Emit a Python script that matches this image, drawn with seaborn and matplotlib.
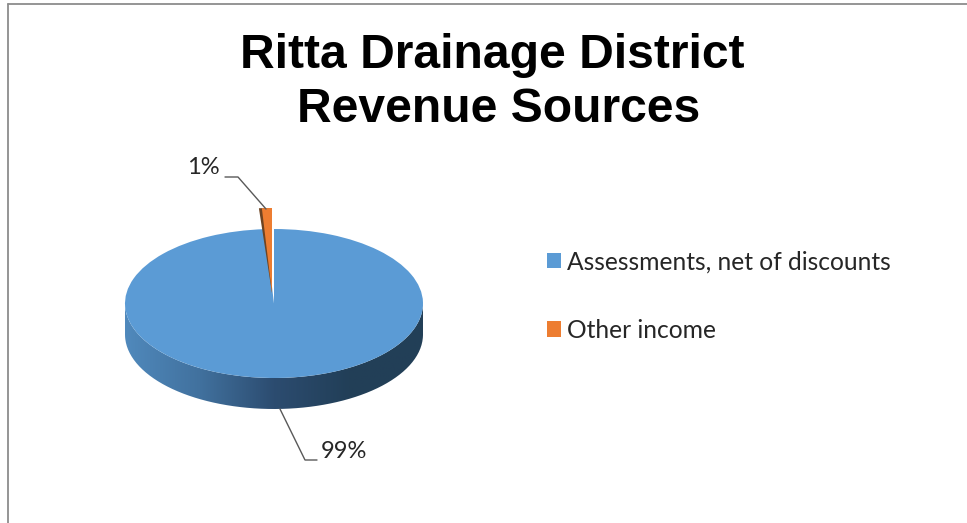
import numpy as np
import matplotlib
matplotlib.use("Agg")
import matplotlib.pyplot as plt
import seaborn as sns
from matplotlib.colors import LinearSegmentedColormap
from matplotlib.lines import Line2D
from matplotlib.patches import PathPatch, Wedge
from matplotlib.path import Path

title_lines = ["Ritta Drainage District", "Revenue Sources"]
categories = ["Assessments, net of discounts", "Other income"]
shares = [99.05, 0.95]
colors = ["#5B9BD5", "#ED7D31"]
wall_colors = ["#5089BC", "#41719E", "#2C4C70", "#223F58", "#233F57"]

W, H = 967, 523
CX, CY, RX, RY = 274, 303.5, 149, 74.5
DEPTH = 31 / RY


def fx(px):
    return px / W


def fy(py):
    return 1 - py / H


sns.set_theme(style="white")
plt.rcParams["font.family"] = ["Lato", "DejaVu Sans"]

fig = plt.figure(figsize=(W / 100, H / 100), dpi=100)
ax = fig.add_axes([0, 0, 1, 1])

wedges, _ = ax.pie(shares, colors=colors, startangle=90, counterclock=False,
                   wedgeprops={"linewidth": 0})
ax.set_aspect("auto")

# side wall of the fake 3D disc
t = np.linspace(np.pi, 2 * np.pi, 200)
wall = np.vstack([
    np.column_stack([np.cos(t), np.sin(t) - DEPTH]),
    np.column_stack([np.cos(t[::-1]), np.sin(t[::-1])]),
])
wall_patch = PathPatch(Path(wall), fc="none", ec="none", transform=ax.transData)
ax.add_patch(wall_patch)
cmap = LinearSegmentedColormap.from_list("wall", wall_colors)
im = ax.imshow(np.linspace(0, 1, 256)[None, :], cmap=cmap, aspect="auto",
               extent=(-1, 1, -1 - DEPTH, 0), zorder=0.5)
im.set_clip_path(wall_patch)

# pulled out slice, with its dark cut face behind it
slice_center = (-2 / RX, 10.5 / RY)
slice_radius = 85 / RY
other = wedges[1]
other.set_center(slice_center)
other.set_radius(slice_radius)
other.set_zorder(3)
ax.add_patch(Wedge(slice_center, slice_radius, other.theta1, other.theta2 + 1.0,
                   fc="#6E4422", ec="none", zorder=2.5))

ax.set_xlim((0 - CX) / RX, (W - CX) / RX)
ax.set_ylim((CY - H) / RY, (CY - 0) / RY)
ax.set_axis_off()

for line, x, y in zip(title_lines, [492.5, 499], [68, 122]):
    fig.text(fx(x), fy(y), line, family=["Liberation Sans"], fontweight="bold",
             fontsize=34.6, color="black", ha="center", va="baseline")

# data labels and their leader lines
line_col = "#595959"
fig.add_artist(Line2D([fx(225), fx(238), fx(266)], [fy(177), fy(177), fy(209)],
                      color=line_col, lw=1))
fig.add_artist(Line2D([fx(280), fx(305), fx(317)], [fy(409), fy(460), fy(460)],
                      color=line_col, lw=1))
fig.text(fx(187), fy(168), f"{shares[1]:.0f}%", fontsize=17, color="#262626",
         ha="left", va="center")
fig.text(fx(321), fy(452), f"{shares[0]:.0f}%", fontsize=17, color="#262626",
         ha="left", va="center")

fig.legend(wedges, categories, loc="center left",
           bbox_to_anchor=(fx(525), fy(296)), frameon=False, fontsize=17.7,
           labelcolor="#262626", handlelength=0.57, handleheight=0.57,
           handletextpad=0.25, labelspacing=1.85)

# screenshot frame, top and left only
frame_col = "#8C8C8C"
fig.add_artist(Line2D([fx(7.5), 1], [fy(3.5), fy(3.5)], color=frame_col, lw=1.3))
fig.add_artist(Line2D([fx(7.5), fx(7.5)], [fy(3.5), 0], color=frame_col, lw=1.3))

fig.savefig("out.png", dpi=100)
